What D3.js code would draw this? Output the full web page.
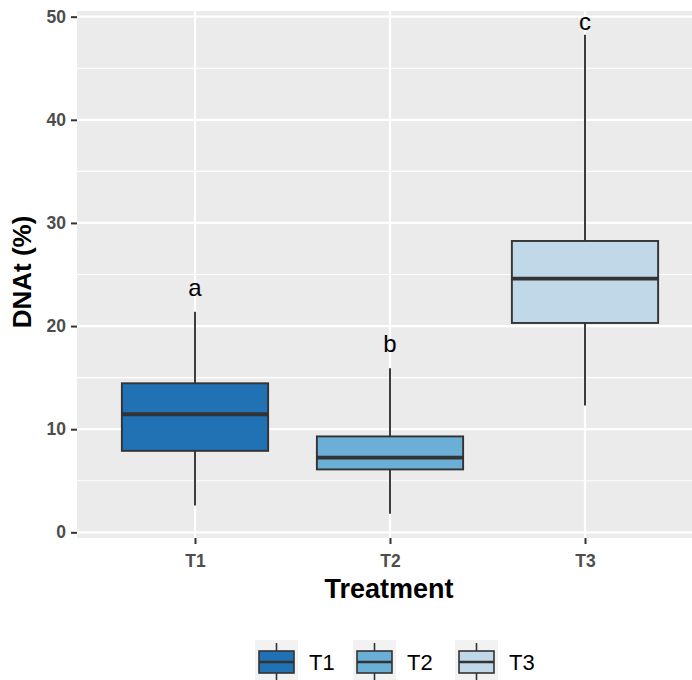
<!DOCTYPE html>
<html><head><meta charset="utf-8">
<script src="https://cdn.jsdelivr.net/npm/d3@7"></script>
<style>body{margin:0;background:#fff}</style>
</head><body>
<script>
const categories = ["T1","T2","T3"];
const whiskerLow = [2.6, 1.8, 12.3];
const q1 = [7.9, 6.1, 20.3];
const median = [11.45, 7.25, 24.6];
const q3 = [14.45, 9.3, 28.25];
const whiskerHigh = [21.4, 15.9, 48.25];
const letters = ["a","b","c"];
const letterPos = [23.6, 18.2, 49.4];
const colors = ["#2171b5","#6baed6","#c0d8e8"];
const yTicks = [0,10,20,30,40,50];
const yMinor = [5,15,25,35,45];

const W=692,H=680;
const FF="'Liberation Sans', Arial, sans-serif";
const svg=d3.select("body").append("svg").attr("width",W).attr("height",H)
  .style("font-family",FF);

const pL=77, pR=702, pT=11, pB=538;
const y=d3.scaleLinear().domain([-0.55,50.55]).range([pB,pT]);
const x=d3.scalePoint().domain(categories).range([195,585]);
const step=x.step();

svg.append("rect").attr("x",pL).attr("y",pT).attr("width",pR-pL).attr("height",pB-pT).attr("fill","#ebebeb");
const g=svg.append("g");
g.selectAll(".mn").data(yMinor).join("line").attr("x1",pL).attr("x2",pR)
  .attr("y1",d=>y(d)).attr("y2",d=>y(d)).attr("stroke","#fff").attr("stroke-width",1.1);
g.selectAll(".mj").data(yTicks).join("line").attr("x1",pL).attr("x2",pR)
  .attr("y1",d=>y(d)).attr("y2",d=>y(d)).attr("stroke","#fff").attr("stroke-width",2.2);
g.selectAll(".vx").data(categories).join("line").attr("y1",pT).attr("y2",pB)
  .attr("x1",d=>x(d)).attr("x2",d=>x(d)).attr("stroke","#fff").attr("stroke-width",2.2);

// axes
const ya=svg.append("g").attr("transform",`translate(${pL},0)`)
  .call(d3.axisLeft(y).tickValues(yTicks).tickSize(6).tickPadding(5));
ya.select(".domain").remove();
ya.selectAll(".tick line").attr("stroke","#333").attr("stroke-width",2);
ya.selectAll(".tick text").attr("fill","#4d4d4d").attr("font-size",17.5).attr("font-weight","bold")
  .attr("font-family",FF);
const xa=svg.append("g").attr("transform",`translate(0,${pB})`)
  .call(d3.axisBottom(x).tickSize(6).tickPadding(11));
xa.select(".domain").remove();
xa.selectAll(".tick line").attr("stroke","#333").attr("stroke-width",2);
xa.selectAll(".tick text").attr("fill","#4d4d4d").attr("font-size",17.5).attr("font-weight","bold")
  .attr("font-family",FF);

// boxes
const data=categories.map((c,i)=>({c,lo:whiskerLow[i],q1:q1[i],med:median[i],q3:q3[i],hi:whiskerHigh[i],col:colors[i],lab:letters[i],lp:letterPos[i]}));
const bw=step*0.75;
const bg=svg.append("g");
data.forEach(d=>{
  const cx=x(d.c);
  bg.append("line").attr("x1",cx).attr("x2",cx).attr("y1",y(d.hi)).attr("y2",y(d.q3)).attr("stroke","#333").attr("stroke-width",1.9);
  bg.append("line").attr("x1",cx).attr("x2",cx).attr("y1",y(d.q1)).attr("y2",y(d.lo)).attr("stroke","#333").attr("stroke-width",1.9);
  bg.append("rect").attr("x",cx-bw/2).attr("width",bw).attr("y",y(d.q3)).attr("height",y(d.q1)-y(d.q3))
    .attr("fill",d.col).attr("stroke","#333").attr("stroke-width",1.9);
  bg.append("line").attr("x1",cx-bw/2).attr("x2",cx+bw/2).attr("y1",y(d.med)).attr("y2",y(d.med)).attr("stroke","#333").attr("stroke-width",3.8);
  bg.append("text").attr("x",cx).attr("y",y(d.lp)).attr("dy","0.3em").attr("text-anchor","middle")
    .attr("font-size",24).attr("fill","#000").text(d.lab);
});

// axis titles
svg.append("text").attr("transform","translate(31,272) rotate(-90)").attr("text-anchor","middle")
  .attr("font-size",26).attr("font-weight","bold").attr("fill","#000").text("DNAt (%)");
svg.append("text").attr("x",389).attr("y",598).attr("text-anchor","middle")
  .attr("font-size",27).attr("font-weight","bold").attr("fill","#000").text("Treatment");

// legend
const legX=[255,353,455];
const lg=svg.append("g");
data.forEach((d,i)=>{
  const kx=legX[i], ky=640, kw=43, kh=43;
  lg.append("rect").attr("x",kx).attr("y",ky).attr("width",kw).attr("height",kh).attr("fill","#f2f2f2");
  const cx=kx+kw/2;
  lg.append("line").attr("x1",cx).attr("x2",cx).attr("y1",ky+3).attr("y2",ky+kh-3).attr("stroke","#333").attr("stroke-width",1.6);
  lg.append("rect").attr("x",kx+4).attr("y",ky+11).attr("width",kw-8).attr("height",kh-21)
    .attr("fill",d.col).attr("stroke","#333").attr("stroke-width",1.6);
  lg.append("line").attr("x1",kx+4).attr("x2",kx+kw-4).attr("y1",ky+22).attr("y2",ky+22).attr("stroke","#333").attr("stroke-width",2.6);
  lg.append("text").attr("x",kx+kw+11).attr("y",ky+22).attr("dy","0.35em").attr("font-size",22).attr("fill","#000").text(d.c);
});
</script>
</body></html>
